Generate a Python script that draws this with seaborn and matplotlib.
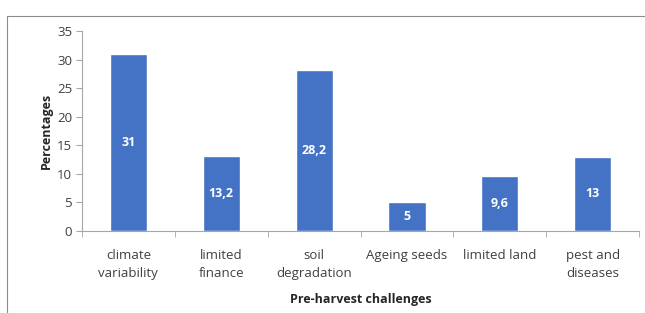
import matplotlib
matplotlib.use("Agg")
import matplotlib.pyplot as plt
import seaborn as sns
import pandas as pd
from matplotlib.lines import Line2D

categories = ["climate\nvariability", "limited\nfinance", "soil\ndegradation",
              "Ageing seeds", "limited land", "pest and\ndiseases"]
values = [31, 13.2, 28.2, 5, 9.6, 13]
value_labels = ["31", "13,2", "28,2", "5", "9,6", "13"]
y_ticks = [0, 5, 10, 15, 20, 25, 30, 35]

sns.set_style("white")
plt.rcParams["font.family"] = ["Open Sans", "DejaVu Sans"]

df = pd.DataFrame({"challenge": categories, "pct": values})

fig = plt.figure(figsize=(6.45, 3.13), dpi=100)
ax = fig.add_axes([0.127, 0.262, 0.864, 0.639])

sns.barplot(data=df, x="challenge", y="pct", color="#4472C4", saturation=1,
            width=0.4, ax=ax)

for i, (v, lab) in enumerate(zip(values, value_labels)):
    ax.text(i, v / 2, lab, ha="center", va="center", color="white",
            fontsize=9, fontweight="bold")

ax.set_ylim(0, 35)
ax.set_yticks(y_ticks)
ax.set_xlim(-0.5, len(categories) - 0.5)
ax.set_ylabel("Percentages", fontsize=9, fontweight="bold", labelpad=3)
ax.set_xlabel("Pre-harvest challenges", fontsize=9, fontweight="bold", labelpad=9)
ax.tick_params(axis="y", labelsize=9.5, length=4, color="#A6A6A6", left=True, pad=3,
               labelcolor="#404040")
ax.tick_params(axis="x", labelsize=9.5, length=0, pad=13, labelcolor="#404040")
for t in ax.get_xticklabels():
    t.set_linespacing(1.5)

# category boundary tick marks on x axis
ax.set_xticks([i - 0.5 for i in range(len(categories) + 1)], minor=True)
ax.tick_params(axis="x", which="minor", length=4, color="#A6A6A6", bottom=True)

for s in ["top", "right"]:
    ax.spines[s].set_visible(False)
for s in ["left", "bottom"]:
    ax.spines[s].set_color("#A6A6A6")
    ax.spines[s].set_linewidth(0.8)

# outer chart frame (open at the right and bottom edges)
fx, fy = 7 / 645, 1 - 16 / 313
fig.add_artist(Line2D([fx, fx], [0, fy], color="#8C8C8C", lw=0.8,
                      transform=fig.transFigure))
fig.add_artist(Line2D([fx, 1], [fy, fy], color="#8C8C8C", lw=0.8,
                      transform=fig.transFigure))

fig.savefig("out.png", dpi=100)
